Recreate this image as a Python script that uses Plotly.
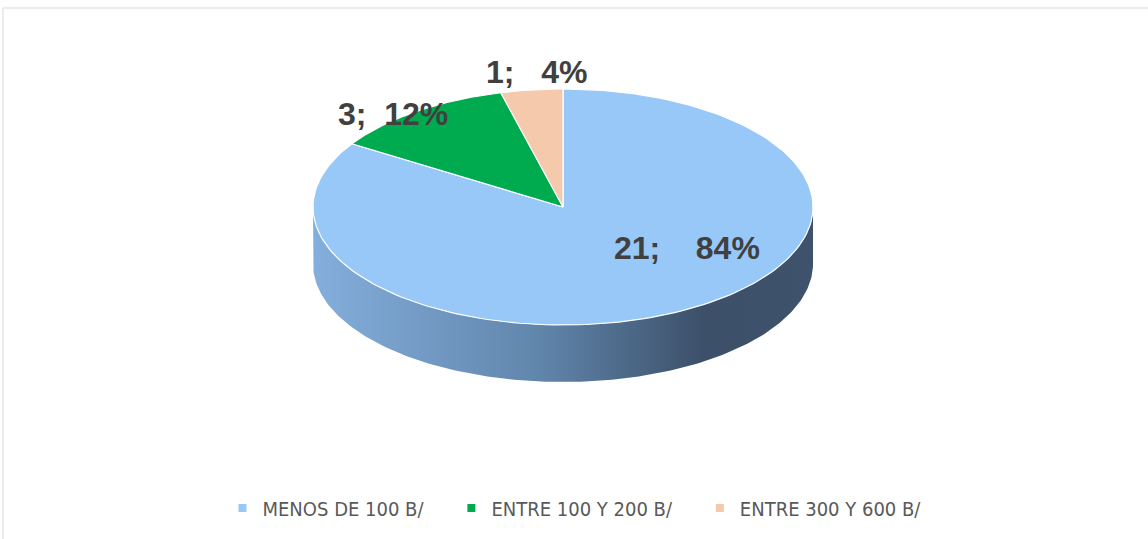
import numpy as np
import plotly.graph_objects as go

# data
categories = ["MENOS DE 100 B/", "ENTRE 100 Y 200 B/", "ENTRE 300 Y 600 B/"]
counts = [21, 3, 1]
percents = [84, 12, 4]
label_texts = ["21;    84%", "3;  12%", "1;   4%"]

colors = ["#97C8F8", "#00AA4E", "#F4C9AC"]

W, H = 1148, 539
cx, cy = 563, 207      # ellipse centre (pixels)
rx, ry = 250, 118      # ellipse radii
depth = 57             # thickness of the pie
label_r = [0.55, 1.12, 1.12]
label_dx = [58, -5, 9]
label_dy = [-16, 14, -4]


def ellipse_pts(t0, t1, dy=0, n=200):
    t = np.linspace(t0, t1, n)
    return cx + rx * np.sin(t), cy - ry * np.cos(t) + dy


fig = go.Figure()

# side wall (front half of the pie)
bx, by = ellipse_pts(np.pi / 2, 3 * np.pi / 2)
lx, ly = ellipse_pts(3 * np.pi / 2, np.pi / 2, dy=depth)
fig.add_trace(go.Scatter(
    x=np.concatenate([bx, lx]), y=np.concatenate([by, ly]),
    fill="toself", mode="lines", line=dict(width=0),
    fillgradient=dict(type="horizontal",
                      colorscale=[[0, "#84AEDC"], [0.45, "#6186AC"],
                                  [0.78, "#3C5069"], [1, "#3E526B"]]),
    hoverinfo="skip", showlegend=False))

# top slices, clockwise from 12 o'clock
total = sum(counts)
start = 0.0
mids = []
for name, v, c in zip(categories, counts, colors):
    span = 2 * np.pi * v / total
    ex, ey = ellipse_pts(start, start + span)
    fig.add_trace(go.Scatter(
        x=np.concatenate([[cx], ex, [cx]]), y=np.concatenate([[cy], ey, [cy]]),
        fill="toself", mode="lines", fillcolor=c,
        line=dict(color="white", width=1.2),
        name=name, hoverinfo="name", showlegend=False))
    mids.append(start + span / 2)
    start += span

# data labels
for txt, m, r, dx, dy in zip(label_texts, mids, label_r, label_dx, label_dy):
    fig.add_annotation(x=cx + r * rx * np.sin(m) + dx, y=cy - r * ry * np.cos(m) + dy,
                       text="<b>" + txt + "</b>", showarrow=False,
                       font=dict(family="Liberation Sans, Arial", size=32, color="#404040"))

# legend entries (trailing nbsp widen the gap between items)
for name, c in zip(categories, colors):
    fig.add_trace(go.Scatter(x=[None], y=[None], mode="markers", name=name + "\u00a0" * 4,
                             marker=dict(symbol="square", size=8, color=c)))

fig.add_shape(type="rect", xref="paper", yref="paper",
              x0=3 / W, x1=1.01, y0=-0.02, y1=1 - 8 / H,
              line=dict(color="#D9D9D9", width=1))

fig.update_layout(
    width=W, height=H,
    margin=dict(l=0, r=0, t=0, b=0),
    paper_bgcolor="white", plot_bgcolor="white",
    xaxis=dict(range=[0, W], visible=False, fixedrange=True),
    yaxis=dict(range=[H, 0], visible=False, fixedrange=True),
    legend=dict(orientation="h", x=0.51, xanchor="center", y=(H - 508) / H, yanchor="middle",
                font=dict(family="DejaVu Sans Condensed, Liberation Sans Narrow, Arial Narrow", size=20,
                          color="#595959"),
                itemwidth=30),
)

fig.write_html("out.html", config={"displayModeBar": False},
               post_script="document.body.style.margin='0';")
